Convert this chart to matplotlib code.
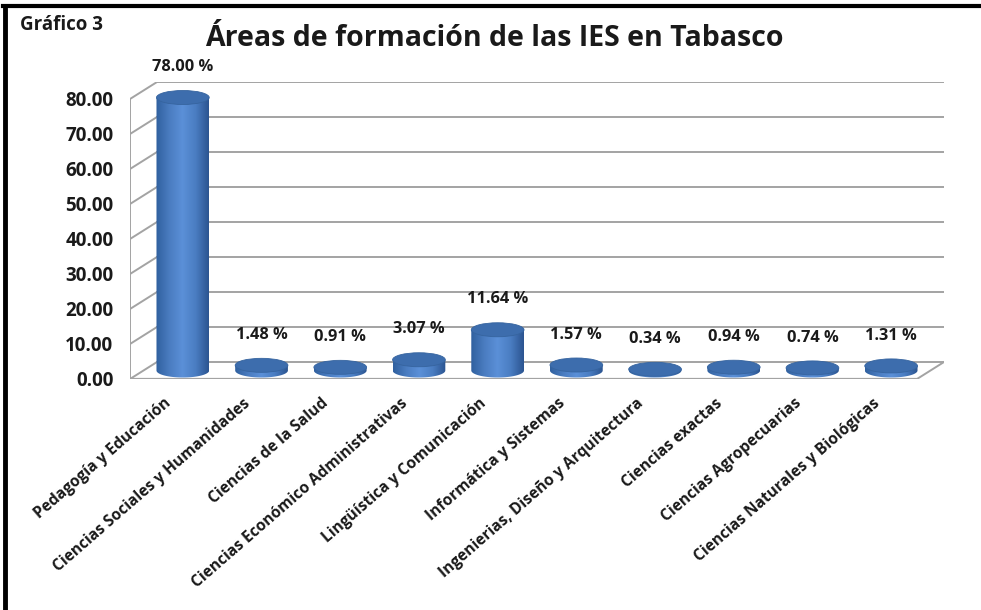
import numpy as np
import matplotlib.pyplot as plt
from matplotlib.patches import Ellipse, Polygon
from matplotlib.colors import LinearSegmentedColormap
from matplotlib.lines import Line2D

plt.rcParams['font.family'] = ['Open Sans', 'DejaVu Sans']
plt.rcParams['font.weight'] = 'bold'

categorias = ['Pedagogía y Educación', 'Ciencias Sociales y Humanidades',
              'Ciencias de la Salud', 'Ciencias Económico Administrativas',
              'Lingüística y Comunicación', 'Informática y Sistemas',
              'Ingenierias, Diseño y Arquitectura', 'Ciencias exactas',
              'Ciencias Agropecuarias', 'Ciencias Naturales y Biológicas']
valores = [78.00, 1.48, 0.91, 3.07, 11.64, 1.57, 0.34, 0.94, 0.74, 1.31]
yticks = [0, 10, 20, 30, 40, 50, 60, 70, 80]

W, H = 981, 610
# profundidad 3D en unidades de datos
ddx, ddy = 0.343, 4.857
grid_col = '#a3a3a3'
txt_col = '#1a1a1a'

fig = plt.figure(figsize=(W / 100, H / 100), dpi=100)
ax = fig.add_axes([130 / W, (H - 379) / H, 814 / W, 297 / H])
ax.set_xlim(-0.5, 9.5 + ddx)
ax.set_ylim(0, 80 + ddy)
for s in ax.spines.values():
    s.set_visible(False)

# paredes y rejilla
x0, x1 = -0.5, len(categorias) - 0.5
for v in yticks:
    ax.plot([x0 + ddx, x1 + ddx], [v + ddy, v + ddy], color=grid_col, lw=1.4, zorder=1)
    ax.plot([x0, x0 + ddx], [v, v + ddy], color=grid_col, lw=1.4, zorder=1)
ax.plot([x0, x0], [0, yticks[-1]], color=grid_col, lw=1.4, zorder=1)
ax.plot([x0, x1], [0, 0], color=grid_col, lw=1.6, zorder=1)
ax.plot([x1, x1 + ddx], [0, ddy], color=grid_col, lw=1.4, zorder=1)

# cilindros
cmap = LinearSegmentedColormap.from_list('cil', ['#30609f', '#4a7cc0', '#5b90d8', '#4a7dc2', '#2b5490'])
grad = np.linspace(0, 1, 256).reshape(1, -1)
bw = 0.67
ry = 2.0
for i, v in enumerate(valores):
    cx = i + ddx / 2
    yb = ddy / 2
    yt = yb + v
    t = np.linspace(np.pi, 2 * np.pi, 60)
    pts = [(cx + bw / 2 * np.cos(a), yb + ry * np.sin(a)) for a in t]
    pts += [(cx + bw / 2, yt), (cx - bw / 2, yt)]
    body = Polygon(pts, closed=True, transform=ax.transData, facecolor='none', edgecolor='none')
    ax.add_patch(body)
    im = ax.imshow(grad, extent=[cx - bw / 2, cx + bw / 2, yb - ry, yt], aspect='auto',
                   cmap=cmap, interpolation='bicubic', zorder=2)
    im.set_clip_path(body)
    ax.add_patch(Ellipse((cx, yt), bw, 2 * ry, facecolor='#3d6dad', edgecolor='#36649f',
                         lw=0.6, zorder=3))
    ax.annotate(f'{v:.2f} %', (cx, yt + ry), xytext=(0, 11), textcoords='offset points',
                ha='center', va='bottom', fontsize=11.8, color=txt_col, fontweight='bold')

ax.set_xlim(-0.5, 9.5 + ddx)
ax.set_ylim(0, 80 + ddy)

ax.set_yticks(yticks)
ax.set_yticklabels([f'{v:.2f}' for v in yticks], fontsize=13.5, color=txt_col, fontweight='bold')
ax.set_xticks(range(len(categorias)))
ax.set_xticklabels(categorias, rotation=41, ha='right', va='center', rotation_mode='anchor',
                   fontsize=11.2, color=txt_col, fontweight='bold')
ax.tick_params(axis='y', length=0, pad=12)
ax.tick_params(axis='x', length=0, pad=16)

fig.text(494 / W, 1 - 38 / H, 'Áreas de formación de las IES en Tabasco', ha='center', va='center',
         fontsize=20.5, fontweight='bold', color=txt_col)
fig.text(20 / W, 1 - 25 / H, 'Gráfico 3', ha='left', va='center', fontsize=13.5,
         fontweight='bold', color=txt_col)

# marco
fig.add_artist(Line2D([3 / W, 1], [1 - 6 / H, 1 - 6 / H], color='black', lw=3, transform=fig.transFigure))
fig.add_artist(Line2D([5 / W, 5 / W], [0, 1 - 6 / H], color='black', lw=3.5, transform=fig.transFigure))

fig.savefig('out.png', dpi=100)
